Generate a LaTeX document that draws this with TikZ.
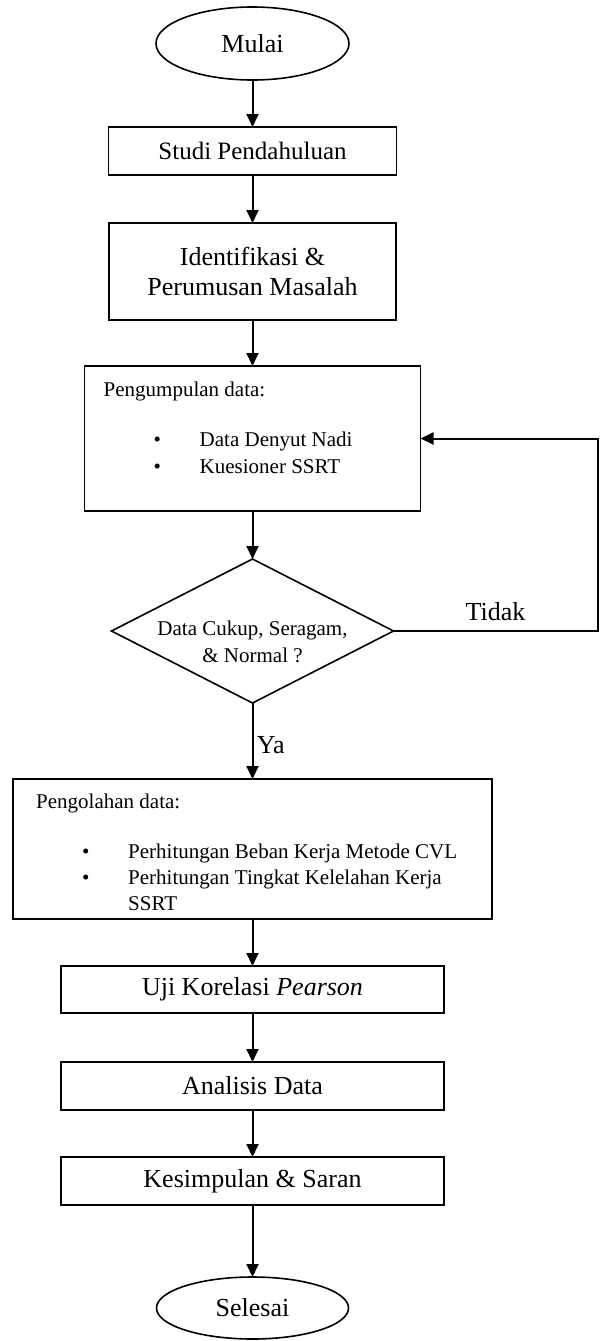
\documentclass[tikz,border=0pt]{standalone}
\usepackage{fontspec}
\setmainfont{Liberation Serif}
\usepackage{tikz}
\usetikzlibrary{positioning}
\usetikzlibrary{shapes.geometric}
\usetikzlibrary{arrows.meta}

\newcommand{\besar}{\fontsize{26pt}{30pt}\selectfont}
\newcommand{\kecil}{\fontsize{21pt}{27pt}\selectfont}

\begin{document}
\begin{tikzpicture}[
        x = 1pt,
        y = -1pt,
        box/.style = {
            draw,
            rectangle,
            line width = 1.6pt,
            minimum width = #1,
            inner sep = 0pt,
            outer sep = 0pt,
            font = \besar,
            align = center
        },
        box/.default = 383pt,
        terminal/.style = {
            draw,
            ellipse,
            line width = 1.6pt,
            minimum width = 193pt,
            inner sep = 0pt,
            outer sep = 0pt,
            font = \besar
        },
        decision/.style = {
            draw,
            diamond,
            line width = 1.6pt,
            minimum width = 282pt,
            minimum height = 144pt,
            inner sep = 0pt,
            outer sep = 0pt
        },
        teks/.style = {anchor = base west, inner sep = 0pt, font = \kecil},
        node distance = {47pt}
            ]
            \useasboundingbox (0,0) rectangle (600,1341);

            \node[terminal, minimum height=73pt] (mulai) at (252.5,43.5) {Mulai};
            \node[box=288pt, minimum height=48pt, font=\fontsize{25pt}{30pt}\selectfont] (studi) [below=47pt of mulai] {Studi Pendahuluan};
            \node[box=287pt, minimum height=97pt] (ident) [below=48pt of studi] {Identifikasi \&\\Perumusan Masalah};

            % pengumpulan data
            \node[box=336pt, minimum height=145pt] (kumpul) [below=46pt of ident] {};
            \node[teks] (judulkumpul) at ([shift={(19pt,-30pt)}]kumpul.north west) {Pengumpulan data:};
            \node[teks] (titik1) at ([shift={(69pt,-80pt)}]kumpul.north west) {\textbullet};
            \node[teks] (nadi) at ([shift={(115pt,-80pt)}]kumpul.north west) {Data Denyut Nadi};
            \node[teks] (titik2) at ([shift={(69pt,-107pt)}]kumpul.north west) {\textbullet};
            \node[teks] (kuesioner) at ([shift={(115pt,-107pt)}]kumpul.north west) {Kuesioner SSRT};

            \node[decision] (dia) [below=48pt of kumpul] {};
            \node[font=\kecil, align=center, inner sep=0pt] (diateks) at ([yshift=-11pt]dia.center) {Data Cukup, Seragam,\\\& Normal ?};

            % pengolahan data
            \node[box=479pt, minimum height=140pt] (olah) [below=76pt of dia] {};
            \node[teks] (judulolah) at ([shift={(23pt,-29pt)}]olah.north west) {Pengolahan data:};
            \node[teks] (titik3) at ([shift={(69pt,-79pt)}]olah.north west) {\textbullet};
            \node[teks] (cvl) at ([shift={(115pt,-79pt)}]olah.north west) {Perhitungan Beban Kerja Metode CVL};
            \node[teks] (titik4) at ([shift={(69pt,-105pt)}]olah.north west) {\textbullet};
            \node[teks] (lelah) at ([shift={(115pt,-105pt)}]olah.north west) {Perhitungan Tingkat Kelelahan Kerja};
            \node[teks] (ssrt) at ([shift={(115pt,-131pt)}]olah.north west) {SSRT};

            \node[box, minimum height=47pt] (uji) [below=47pt of olah] {Uji Korelasi \textit{Pearson}};
            \node[box, minimum height=48pt] (analisis) [below=49pt of uji] {Analisis Data};
            \node[box, minimum height=48pt] (simpul) [below=47pt of analisis] {Kesimpulan \& Saran};
            \node[terminal, minimum width=192pt, minimum height=62pt] (selesai) [below=72pt of simpul] {Selesai};

            \coordinate (kanan) at ([xshift=177pt]kumpul.east);

            \draw[line width = 2pt, -{Triangle[length=13pt, width=12pt]}] (mulai) -- (studi);
            \draw[line width = 2pt, -{Triangle[length=13pt, width=12pt]}] (studi) -- (ident);
            \draw[line width = 2pt, -{Triangle[length=13pt, width=12pt]}] (ident) -- (kumpul);
            \draw[line width = 2pt, -{Triangle[length=13pt, width=12pt]}] (kumpul) -- (dia);
            \draw[line width = 2pt, -{Triangle[length=13pt, width=12pt]}] (dia) -- node[right, pos=0.55, font=\besar]{Ya} (olah);
            \draw[line width = 2pt, -{Triangle[length=13pt, width=12pt]}] (dia.east) -- node[above=6pt, font=\besar]{Tidak} (dia.east -| kanan) -- (kanan) -- (kumpul.east);
            \draw[line width = 2pt, -{Triangle[length=13pt, width=12pt]}] (olah) -- (uji);
            \draw[line width = 2pt, -{Triangle[length=13pt, width=12pt]}] (uji) -- (analisis);
            \draw[line width = 2pt, -{Triangle[length=13pt, width=12pt]}] (analisis) -- (simpul);
            \draw[line width = 2pt, -{Triangle[length=13pt, width=12pt]}] (simpul) -- (selesai);

        \end{tikzpicture}
\end{document}
